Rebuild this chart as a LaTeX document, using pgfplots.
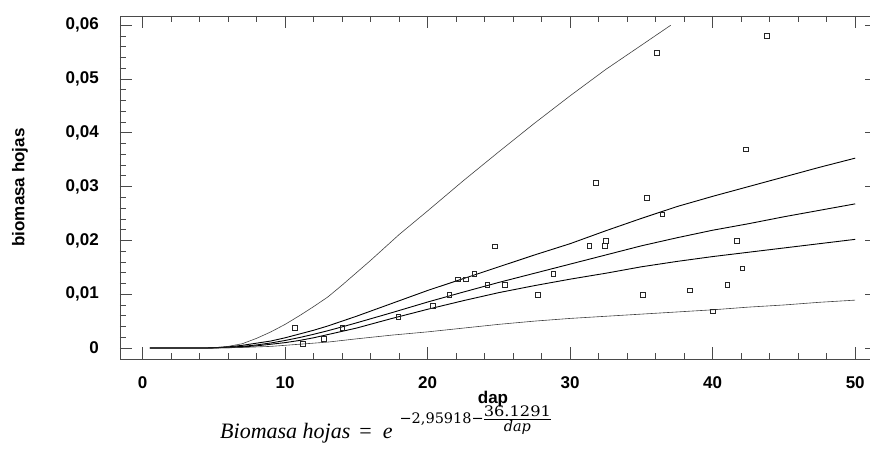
\documentclass[border=0pt]{standalone}
\usepackage{fontspec}
\setmainfont{Liberation Sans}
\newfontfamily\eqfont{Liberation Serif}
\newfontfamily\expfont{DejaVu Serif}
\usepackage{graphicx}
\usepackage{pgfplots}
\pgfplotsset{compat=1.18}
\definecolor{frame}{HTML}{4A4A4A}
\newlength\numw
\begin{document}
\settowidth{\numw}{\fontsize{14.5}{14.5}\selectfont\expfont\upshape\scalebox{1.12}[1]{36.1291}}%
\begin{tikzpicture}[x=1pt,y=1pt]
\begin{axis}[
  at={(0,0)}, anchor=south west,
  scale only axis, width=757pt, height=343pt,
  xmin=-1.59, xmax=51.53, ymin=-0.002045, ymax=0.06173,
  xtick={0,10,20,30,40,50}, xticklabels={0,10,20,30,40,50},
  ytick={0,0.01,0.02,0.03,0.04,0.05,0.06},
  yticklabels={0,{0,01},{0,02},{0,03},{0,04},{0,05},{0,06}},
  scaled y ticks=false, scaled x ticks=false,
  minor x tick num=4, minor y tick num=4,
  tick align=inside, major tick length=12pt, minor tick length=6pt,
  axis line style={frame, line width=0.9pt},
  every tick/.style={frame, line width=0.8pt},
  ticklabel style={font=\fontsize{17}{17}\selectfont\bfseries},
  xticklabel style={anchor=north, inner sep=0pt, yshift=-17pt},
  yticklabel style={anchor=east, inner sep=0pt, xshift=-21pt},
  xlabel={dap}, ylabel={biomasa hojas},
  xlabel style={font=\fontsize{17}{17}\selectfont\bfseries, at={(axis description cs:0.4927,-0.131)}, anchor=base},
  ylabel style={font=\fontsize{17}{17}\selectfont\bfseries, at={(axis description cs:-0.1321,0.5)}, anchor=center},
  clip=true,
]
% upper prediction limit
\addplot[color=black!75, line width=0.6pt] coordinates {
(0.5,0)(4.5,0)(5,0.00005)(6,0.0003)(7,0.0008)(8,0.0018)(9,0.0030)(10,0.0044)(11,0.0060)(12,0.0077)(13,0.0095)(14,0.0117)(15,0.0140)(16,0.0163)(18,0.0211)(20,0.0255)(22.5,0.0311)(25,0.0365)(27.5,0.0418)(30,0.0469)(32.5,0.0518)(35,0.0563)(37.05,0.0600)
};
% upper confidence limit
\addplot[color=black, line width=0.9pt] coordinates {
(0.5,0)(4.5,0)(5,0.00005)(6,0.0002)(7,0.0005)(8,0.0009)(9,0.0013)(10,0.0019)(11,0.0026)(12,0.0033)(13,0.0041)(14,0.0050)(15,0.0059)(17.5,0.0083)(20,0.0107)(22.5,0.0129)(25,0.0151)(27.5,0.0173)(30,0.0194)(32.5,0.0218)(35,0.0241)(37.5,0.0263)(40,0.0282)(42.5,0.0300)(45,0.0318)(47.5,0.0336)(50,0.0353)
};
% fitted
\addplot[color=black, line width=0.9pt] coordinates {
(0.5,0)(4.5,0)(5,0.00004)(6,0.00013)(7,0.0003)(8,0.00057)(9,0.00094)(10,0.0014)(11,0.00194)(12,0.00255)(13,0.00322)(14,0.00393)(15,0.00467)(17.5,0.00658)(20,0.00855)(22.5,0.0104)(25,0.0122)(27.5,0.0139)(30,0.0156)(32.5,0.0173)(35,0.0190)(37.5,0.0205)(40,0.0219)(42.5,0.0231)(45,0.0244)(47.5,0.0256)(50,0.0268)
};
% lower confidence limit
\addplot[color=black, line width=0.9pt] coordinates {
(0.5,0)(4.5,0)(5,0.00002)(6,0.00007)(7,0.0002)(8,0.0004)(9,0.0007)(10,0.0010)(11,0.0014)(12,0.0019)(13,0.0025)(14,0.0031)(15,0.0037)(17.5,0.0055)(20,0.0072)(22.5,0.0088)(25,0.0103)(27.5,0.0116)(30,0.0128)(32.5,0.0139)(35,0.0151)(37.5,0.0161)(40,0.0170)(42.5,0.0178)(45,0.0186)(47.5,0.0194)(50,0.0202)
};
% lower prediction limit
\addplot[color=black!75, line width=0.6pt] coordinates {
(0.5,0)(4.5,0)(5,0.00001)(6,0.00004)(7,0.0001)(8,0.0002)(9,0.0003)(10,0.0005)(11,0.0007)(12,0.0009)(13,0.0011)(14,0.0014)(15,0.0017)(17.5,0.0024)(20,0.0030)(22.5,0.0037)(25,0.0044)(27.5,0.0050)(30,0.0055)(32.5,0.0059)(35,0.0063)(37.5,0.0067)(40,0.0071)(42.5,0.0076)(45,0.0080)(47.5,0.0085)(50,0.0089)
};
% observations
\addplot[only marks, mark=square, mark size=2.4pt, mark options={draw=black!85, line width=0.6pt, fill=white}] coordinates {
(10.69,0.00378)(11.23,0.00074)(12.70,0.00173)(14.01,0.00378)(17.94,0.00583)(20.35,0.00787)(21.52,0.00992)(22.10,0.01277)(22.67,0.01277)(23.27,0.01376)(24.18,0.01171)(24.72,0.01891)(25.42,0.01171)(27.72,0.00992)(28.82,0.01376)(31.34,0.01897)(31.81,0.03074)(32.44,0.01897)(32.51,0.01995)(35.09,0.00992)(35.39,0.02789)(36.07,0.0549)(36.47,0.02485)(38.41,0.01072)(40.00,0.00682)(41.03,0.01171)(41.71,0.01995)(42.08,0.01481)(42.34,0.03694)(43.79,0.05801)
};
\end{axis}
\node[anchor=base west, inner sep=0pt] at (100,-79.7)
  {\fontsize{22}{22}\selectfont\eqfont\itshape Biomasa hojas\hspace{9pt}\upshape=\hspace{11pt}\itshape e\hspace{7pt}%
   \fontsize{14.5}{14.5}\selectfont\expfont\upshape
   \raisebox{15pt}{−2,95918−}%
   \makebox[0pt][l]{\raisebox{21.8pt}{\makebox[\numw]{\scalebox{1.12}[1]{36.1291}}}}%
   \makebox[0pt][l]{\rule[19pt]{\numw}{0.6pt}}%
   \raisebox{7.6pt}{\makebox[\numw]{\itshape dap}}};
\pgfresetboundingbox
\useasboundingbox (-120,-90) rectangle (750,359);
\end{tikzpicture}
\end{document}
